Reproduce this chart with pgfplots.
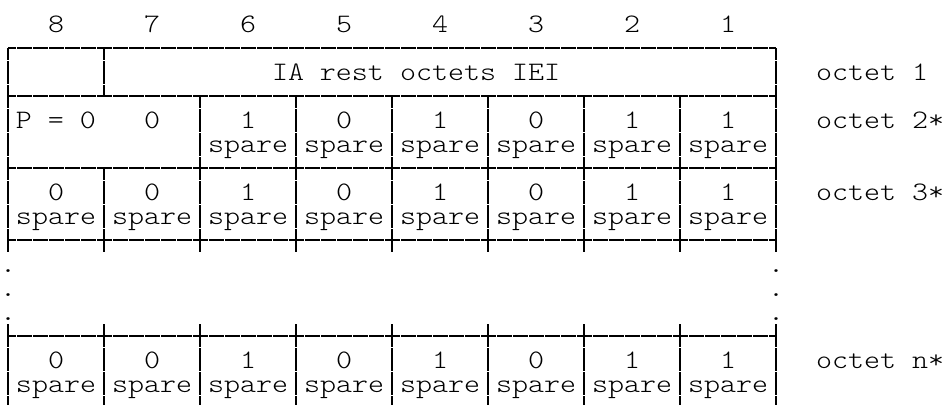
\documentclass[border=0pt]{standalone}
\usepackage{pgfplots}
\pgfplotsset{compat=1.18}
\usepackage{fontspec}
\newfontfamily\mono[Extension=.otf, FakeStretch=1.143]{lmmonolt10-regular}
\tikzset{
  hl/.style={dash pattern=on 15pt off 1pt, dash phase=7pt},
  vl/.style={dash pattern=on 23pt off 1pt, dash phase=11pt},
  vm/.style={dash pattern=on 23pt off 1pt, dash phase=0pt},
  txt/.style={anchor=base west, inner sep=0pt, outer sep=0pt, text height=16pt, text depth=4pt, font=\mono\fontsize{26.67}{24}\selectfont, text=black},
}
\begin{document}
\begin{tikzpicture}
\begin{axis}[
  width=943pt, height=405pt, scale only axis,
  xmin=0, xmax=943, ymin=0, ymax=405, y dir=reverse,
  hide axis, clip=false,
  every axis plot/.style={black, line width=1.5pt, line cap=butt},
]
% horizontal borders
\addplot[hl] coordinates {(8,48) (776,48)};
\addplot[hl] coordinates {(8,96) (776,96)};
\addplot[hl] coordinates {(8,168) (776,168)};
\addplot[hl] coordinates {(8,240) (776,240)};
\addplot[hl] coordinates {(8,336) (776,336)};
% outer verticals
\addplot[vl] coordinates {(8,48) (8,252)};
\addplot[vm] coordinates {(8,324) (8,405)};
\addplot[vl] coordinates {(776,48) (776,252)};
\addplot[vm] coordinates {(776,324) (776,405)};
% column 7/8 separator
\addplot[vl] coordinates {(104,48) (104,96)};
\addplot[vl] coordinates {(104,168) (104,252)};
\addplot[vm] coordinates {(104,324) (104,405)};
% inner separators
\addplot[vl] coordinates {(200,96) (200,252)};
\addplot[vm] coordinates {(200,324) (200,405)};
\addplot[vl] coordinates {(296,96) (296,252)};
\addplot[vm] coordinates {(296,324) (296,405)};
\addplot[vl] coordinates {(392,96) (392,252)};
\addplot[vm] coordinates {(392,324) (392,405)};
\addplot[vl] coordinates {(488,96) (488,252)};
\addplot[vm] coordinates {(488,324) (488,405)};
\addplot[vl] coordinates {(584,96) (584,252)};
\addplot[vm] coordinates {(584,324) (584,405)};
\addplot[vl] coordinates {(680,96) (680,252)};
\addplot[vm] coordinates {(680,324) (680,405)};
% top bit numbers (line 0, baseline 32)
\node[txt] at (axis cs:48,32) {8};
\node[txt] at (axis cs:144,32) {7};
\node[txt] at (axis cs:240,32) {6};
\node[txt] at (axis cs:336,32) {5};
\node[txt] at (axis cs:432,32) {4};
\node[txt] at (axis cs:528,32) {3};
\node[txt] at (axis cs:624,32) {2};
\node[txt] at (axis cs:720,32) {1};
% octet 1 (line 2, baseline 80)
\node[txt] at (axis cs:272,80) {IA rest octets IEI};
\node[txt] at (axis cs:816,80) {octet 1};
% octet 2 (line 4 baseline 128, line 5 baseline 152)
\node[txt] at (axis cs:16,128) {P = 0};
\node[txt] at (axis cs:144,128) {0};
\node[txt] at (axis cs:240,128) {1};
\node[txt] at (axis cs:336,128) {0};
\node[txt] at (axis cs:432,128) {1};
\node[txt] at (axis cs:528,128) {0};
\node[txt] at (axis cs:624,128) {1};
\node[txt] at (axis cs:720,128) {1};
\node[txt] at (axis cs:816,128) {octet 2*};
\node[txt] at (axis cs:208,152) {spare};
\node[txt] at (axis cs:304,152) {spare};
\node[txt] at (axis cs:400,152) {spare};
\node[txt] at (axis cs:496,152) {spare};
\node[txt] at (axis cs:592,152) {spare};
\node[txt] at (axis cs:688,152) {spare};
% octet 3 (line 7 baseline 200, line 8 baseline 224)
\node[txt] at (axis cs:48,200) {0};
\node[txt] at (axis cs:144,200) {0};
\node[txt] at (axis cs:240,200) {1};
\node[txt] at (axis cs:336,200) {0};
\node[txt] at (axis cs:432,200) {1};
\node[txt] at (axis cs:528,200) {0};
\node[txt] at (axis cs:624,200) {1};
\node[txt] at (axis cs:720,200) {1};
\node[txt] at (axis cs:816,200) {octet 3*};
\node[txt] at (axis cs:16,224) {spare};
\node[txt] at (axis cs:112,224) {spare};
\node[txt] at (axis cs:208,224) {spare};
\node[txt] at (axis cs:304,224) {spare};
\node[txt] at (axis cs:400,224) {spare};
\node[txt] at (axis cs:496,224) {spare};
\node[txt] at (axis cs:592,224) {spare};
\node[txt] at (axis cs:688,224) {spare};
% dots (lines 10-12)
\node[txt] at (axis cs:0,272) {.};
\node[txt] at (axis cs:0,296) {.};
\node[txt] at (axis cs:0,320) {.};
\node[txt] at (axis cs:768,272) {.};
\node[txt] at (axis cs:768,296) {.};
\node[txt] at (axis cs:768,320) {.};
% octet n (line 14 baseline 368, line 15 baseline 392)
\node[txt] at (axis cs:48,368) {0};
\node[txt] at (axis cs:144,368) {0};
\node[txt] at (axis cs:240,368) {1};
\node[txt] at (axis cs:336,368) {0};
\node[txt] at (axis cs:432,368) {1};
\node[txt] at (axis cs:528,368) {0};
\node[txt] at (axis cs:624,368) {1};
\node[txt] at (axis cs:720,368) {1};
\node[txt] at (axis cs:816,368) {octet n*};
\node[txt] at (axis cs:16,392) {spare};
\node[txt] at (axis cs:112,392) {spare};
\node[txt] at (axis cs:208,392) {spare};
\node[txt] at (axis cs:304,392) {spare};
\node[txt] at (axis cs:400,392) {spare};
\node[txt] at (axis cs:496,392) {spare};
\node[txt] at (axis cs:592,392) {spare};
\node[txt] at (axis cs:688,392) {spare};
\end{axis}
\pgfresetboundingbox
\path[use as bounding box] (current axis.south west) rectangle (current axis.north east);
\end{tikzpicture}
\end{document}
